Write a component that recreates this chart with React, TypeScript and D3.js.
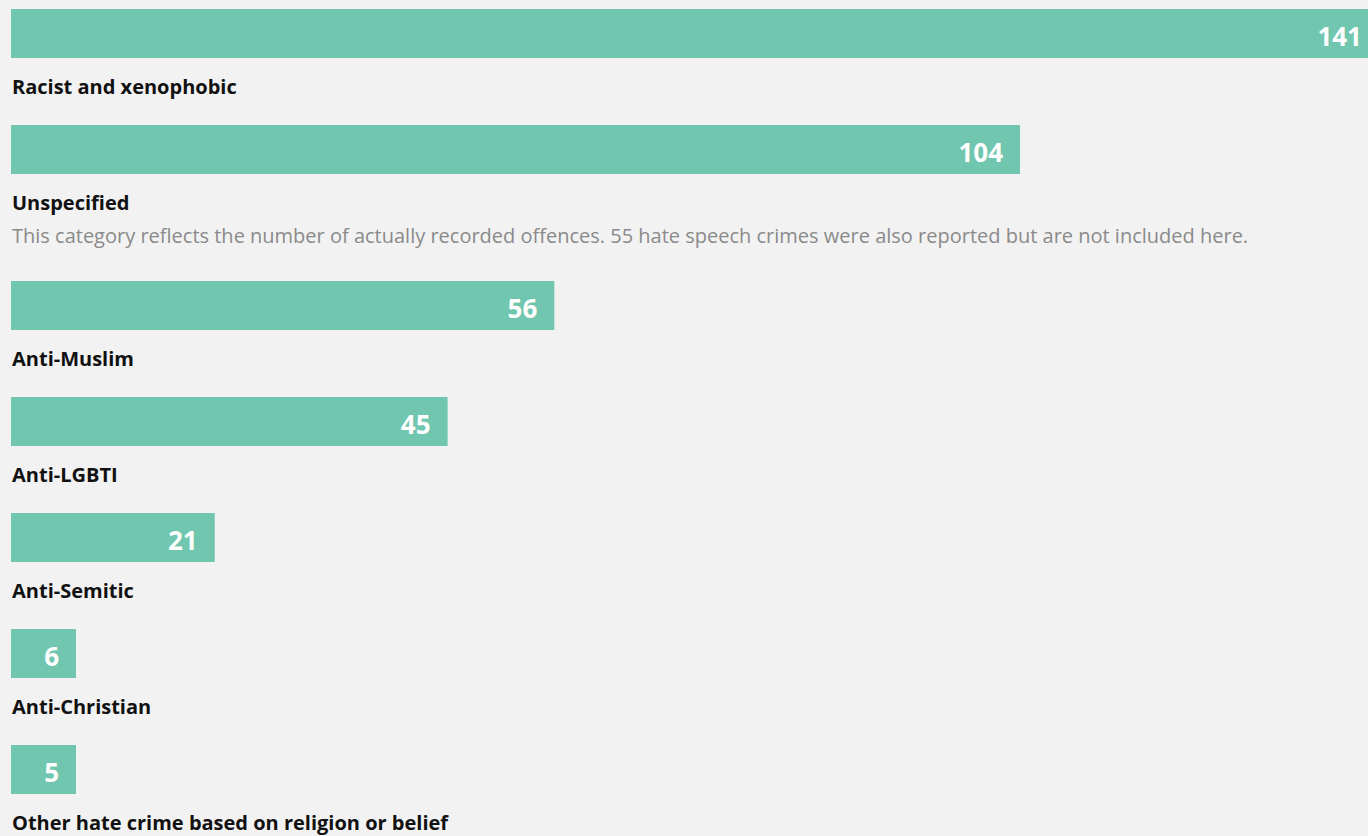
import React from "react";
import * as d3 from "d3";

const categories = [
  "Racist and xenophobic",
  "Unspecified",
  "Anti-Muslim",
  "Anti-LGBTI",
  "Anti-Semitic",
  "Anti-Christian",
  "Other hate crime based on religion or belief",
];
const values = [141, 104, 56, 45, 21, 6, 5];
const notes = [
  "",
  "This category reflects the number of actually recorded offences. 55 hate speech crimes were also reported but are not included here.",
  "",
  "",
  "",
  "",
  "",
];

const W = 1368;
const H = 836;
const X0 = 11;
const BAR_H = 49;
const ROW = 116;
const NOTE_EXTRA = 40;
const MIN_W = 65;
const FONT = "'Open Sans', 'Noto Sans', sans-serif";

export default function App() {
  const x = d3.scaleLinear().domain([0, 141]).range([0, 1368]);
  let y = 9;
  const rows = categories.map((c, i) => {
    const top = y;
    y += ROW + (notes[i] ? NOTE_EXTRA : 0);
    return { c, v: values[i], note: notes[i], top };
  });
  return (
    <div style={{ position: "fixed", left: 0, top: 0, width: W, height: H, background: "#f2f2f2" }}>
      <svg width={W} height={H} style={{ display: "block" }}>
        <rect x={0} y={0} width={W} height={H} fill="#f2f2f2" />
        {rows.map((r) => {
          const w = Math.max(MIN_W, x(r.v));
          return (
            <g key={r.c}>
              <rect x={X0} y={r.top} width={w} height={BAR_H} fill="#70c6ae" />
              <text
                x={X0 + w - 17}
                y={r.top + 36.5}
                textAnchor="end"
                fill="#ffffff"
                fontFamily={FONT}
                fontWeight={700}
                fontSize={26}
              >
                {r.v}
              </text>
              <text
                x={12}
                y={r.top + BAR_H + 36}
                fill="#111111"
                fontFamily={FONT}
                fontWeight={700}
                fontSize={20}
              >
                {r.c}
              </text>
              {r.note && (
                <text
                  x={12}
                  y={r.top + BAR_H + 69}
                  fill="#8a8a8a"
                  fontFamily={FONT}
                  fontSize={20}
                >
                  {r.note}
                </text>
              )}
            </g>
          );
        })}
      </svg>
    </div>
  );
}
